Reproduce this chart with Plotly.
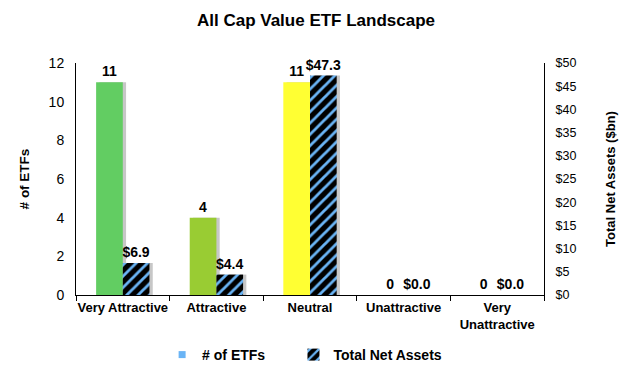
import plotly.graph_objects as go

categories = ["Very Attractive", "Attractive", "Neutral", "Unattractive", "Very<br>Unattractive"]
num_etfs = [11, 4, 11, 0, 0]
total_net_assets = [6.9, 4.4, 47.3, 0.0, 0.0]
etf_colors = ["#62CD62", "#99CC33", "#FFFF33", "#E03030", "#A00000"]
etf_labels = [str(v) for v in num_etfs]
tna_labels = ["$%.1f" % v for v in total_net_assets]

FONT = "Liberation Sans, Arial, sans-serif"
bw = 0.285
sh = 0.035
SHADOW = "rgba(0,0,0,0.22)"

fig = go.Figure()
# drop shadows
fig.add_trace(go.Bar(x=categories, y=num_etfs, width=bw, offset=-bw + sh,
                     marker=dict(color=SHADOW, line=dict(width=0)), showlegend=False,
                     hoverinfo="skip", yaxis="y"))
fig.add_trace(go.Bar(
    x=categories, y=num_etfs, name="# of ETFs", showlegend=False,
    marker=dict(color=etf_colors, line=dict(width=0)),
    width=bw, offset=-bw,
    text=etf_labels, textposition="outside", constraintext="none",
    textfont=dict(family=FONT, size=14, color="black", weight="bold"),
    cliponaxis=False, yaxis="y",
))
fig.add_trace(go.Bar(x=categories, y=total_net_assets, width=bw, offset=sh,
                     marker=dict(color=SHADOW, line=dict(width=0)), showlegend=False,
                     hoverinfo="skip", yaxis="y2"))
fig.add_trace(go.Bar(
    x=categories, y=total_net_assets, name="Total Net Assets",
    marker=dict(color="black", line=dict(width=0),
                pattern=dict(shape="/", fgcolor="#6AB4F5", bgcolor="black",
                             size=8, solidity=0.35, fillmode="replace")),
    width=bw, offset=0,
    text=tna_labels, textposition="outside", constraintext="none",
    textfont=dict(family=FONT, size=14, color="black", weight="bold"),
    cliponaxis=False, yaxis="y2",
))
fig.add_trace(go.Scatter(
    x=[None], y=[None], mode="markers", name="# of ETFs" + "\u00a0" * 6,
    marker=dict(symbol="square", size=7, color="#6AB4F5"),
))

fig.update_layout(
    width=630, height=368,
    margin=dict(l=76, r=86, t=63, b=73),
    paper_bgcolor="white", plot_bgcolor="white",
    font=dict(family=FONT, size=13, color="black"),
    title=dict(text="<b>All Cap Value ETF Landscape</b>", x=316 / 630, xanchor="center", xref="container",
               y=1 - 20 / 368, yanchor="middle", yref="container", font=dict(size=17, family=FONT)),
    showlegend=True,
    legend=dict(orientation="h", x=0.184, xanchor="left", y=1 - 355 / 368, yanchor="middle",
                yref="container",
                font=dict(size=14, family=FONT, weight="bold"), traceorder="reversed",
                itemwidth=30),
    xaxis=dict(showline=True, linecolor="black", linewidth=1, automargin=False,
               ticks="outside", tickson="boundaries", ticklen=5, tickcolor="black",
               tickangle=0, tickfont=dict(size=13, weight="bold"), showgrid=False),
    yaxis=dict(range=[0, 12], dtick=2, showline=True, linecolor="black", linewidth=1,
               showgrid=False, zeroline=False, ticks="", automargin=False,
               tickfont=dict(size=14), ticklabelstandoff=8,
               title=dict(text="<b># of ETFs</b>", font=dict(size=13.5), standoff=15)),
    yaxis2=dict(range=[0, 50], dtick=5, tickprefix="$", overlaying="y", side="right",
                showline=True, linecolor="black", linewidth=1, showgrid=False,
                zeroline=False, ticks="", automargin=False,
                tickfont=dict(size=12.5), ticklabelstandoff=8,
                title=dict(text="<b>Total Net Assets ($bn)</b>", font=dict(size=13), standoff=30)),
    bargap=0.4,
)

fig.write_html("out.html", config={"displayModeBar": False},
               post_script="document.body.style.margin='0';")
